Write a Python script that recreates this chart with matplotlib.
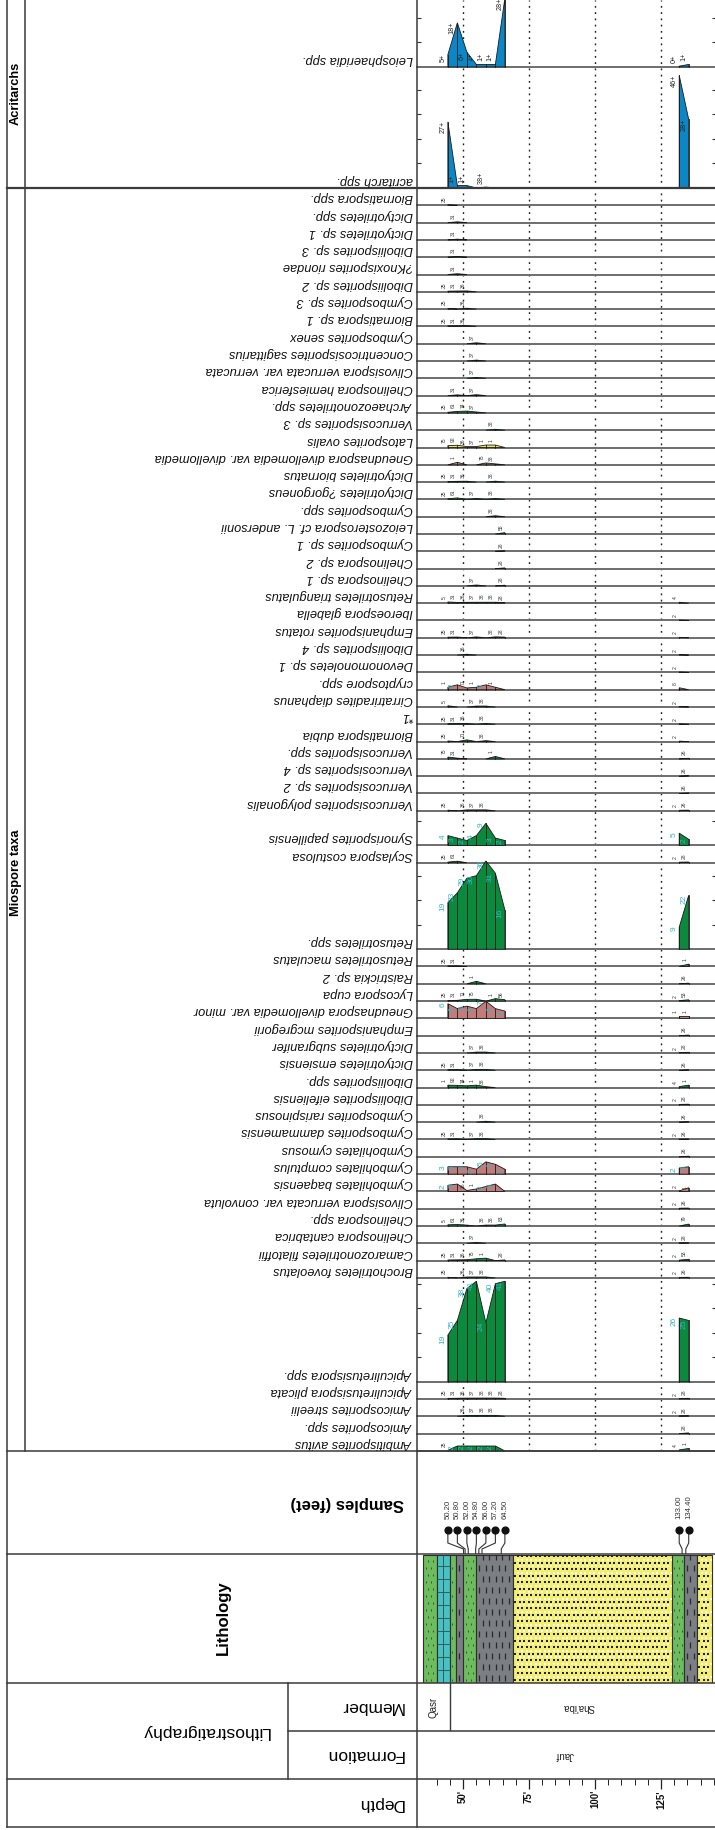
import numpy as np
import matplotlib
matplotlib.use("Agg")
import matplotlib.pyplot as plt

plt.rcParams['font.family'] = ['Liberation Sans', 'DejaVu Sans']

# ---------------- data ----------------
sample_depths = [50.20, 50.80, 52.00, 54.80, 56.00, 57.20, 64.50, 133.00, 134.40]
sample_clusters = [(0, 7), (7, 9)]

acritarch_taxa = ["Leiosphaeridia spp.", "acritarch spp."]
acritarch_values = [
    [5, 18, 6, 1, 1, 1, 28, 0.3, 1],
    [27, 1, 1, 0, 0.38, 0, 0, 46, 28],
]
acritarch_labels = [
    ["5", "18", "6", "1", "1", "1", "28", "0", "1"],
    ["27", "1", "1", "", "38", "", "", "46", "28"],
]
acritarch_units = [7, 7]

miospore_taxa = [
    "Biornatispora spp.", "Dictyotriletes spp.", "Dictyotriletes sp. 1", "Diboliisporites sp. 3",
    "?Knoxisporites riondae", "Diboliisporites sp. 2", "Cymbosporites sp. 3", "Biornatispora sp. 1",
    "Cymbosporites senex", "Concentricosisporites sagittarius", "Clivosispora verrucata var. verrucata",
    "Chelinospora hemiesferica", "Archaeozonotriletes spp.", "Verrucosisporites sp. 3",
    "Latosporites ovalis", "Gneudnaspora divellomedia var. divellomedia", "Dictyotriletes biornatus",
    "Dictyotriletes ?gorgoneus", "Cymbosporites spp.", "Leiozosterospora cf. L. andersonii",
    "Cymbosporites sp. 1", "Chelinospora sp. 2", "Chelinospora sp. 1", "Retusotriletes triangulatus",
    "Iberoespora glabella", "Emphanisporites rotatus", "Diboliisporites sp. 4", "Devonomonoletes sp. 1",
    "cryptospore spp.", "Cirratriradites diaphanus", "*1", "Biornatispora dubia",
    "Verrucosisporites spp.", "Verrucosisporites sp. 4", "Verrucosisporites sp. 2",
    "Verrucosisporites polygonalis", "Synorisporites papillensis", "Scylaspora costulosa",
    "Retusotriletes spp.", "Retusotriletes maculatus", "Raistrickia sp. 2", "Lycospora cupa",
    "Gneudnaspora divellomedia var. minor", "Emphanisporites mcgregorii", "Dictyotriletes subgranifer",
    "Dictyotriletes emsiensis", "Diboliisporites spp.", "Diboliisporites eifeliensis",
    "Cymbosporites rarispinosus", "Cymbosporites dammamensis", "Cymbohilates cymosus",
    "Cymbohilates comptulus", "Cymbohilates baqaensis", "Clivosispora verrucata var. convoluta",
    "Chelinospora spp.", "Chelinospora cantabrica", "Camarozonotriletes filatoffii",
    "Brochotriletes foveolatus", "Apiculiretusispora spp.", "Apiculiretusispora plicata",
    "Amicosporites streelii", "Amicosporites spp.", "Ambitisporites avitus",
]
miospore_values = [
    [.25, 0, 0, 0, 0, 0, 0, 0, 0],
    [0, .31, 0, 0, 0, 0, 0, 0, 0],
    [0, .31, 0, 0, 0, 0, 0, 0, 0],
    [0, .31, 0, 0, 0, 0, 0, 0, 0],
    [0, .31, 0, 0, 0, 0, 0, 0, 0],
    [.25, .31, .36, 0, 0, 0, 0, 0, 0],
    [.25, 0, .36, 0, 0, 0, 0, 0, 0],
    [.25, .31, .36, 0, 0, 0, 0, 0, 0],
    [0, 0, 0, .37, 0, 0, 0, 0, 0],
    [0, 0, 0, .37, 0, 0, 0, 0, 0],
    [0, 0, 0, .37, 0, 0, 0, 0, 0],
    [0, .31, 0, .37, 0, 0, 0, 0, 0],
    [.25, .61, .74, .37, 0, 0, 0, 0, 0],
    [0, 0, 0, 0, 0, .38, 0, 0, 0],
    [.75, .92, .36, .37, 1, 1, 0, 0, 0],
    [0, 1, 0, 0, .75, .38, 0, 0, 0],
    [.25, .31, .36, 0, 0, .38, 0, 0, 0],
    [.25, .61, 0, .37, 0, .38, 0, 0, 0],
    [0, 0, 0, 0, 0, .38, 0, 0, 0],
    [0, 0, 0, 0, 0, 0, .55, 0, 0],
    [0, 0, 0, 0, 0, 0, .28, 0, 0],
    [0, 0, 0, 0, 0, 0, .28, 0, 0],
    [0, 0, 0, .37, 0, 0, .28, 0, 0],
    [.5, .31, .36, .37, .38, .38, .28, .4, 0],
    [0, 0, 0, 0, 0, 0, 0, .2, 0],
    [.25, .31, 0, .37, 0, .38, .28, .2, 0],
    [0, 0, .36, 0, 0, 0, 0, .2, 0],
    [0, 0, 0, 0, 0, 0, 0, .2, 0],
    [1, 2, .71, 1, 2, 1, 0, .8, 0],
    [.5, 0, 0, .37, .38, 0, 0, .2, 0],
    [.25, .31, .36, 0, .38, 0, 0, .2, 0],
    [.25, 0, .71, 0, .38, 0, 0, .2, 0],
    [.75, .31, 0, 0, 0, 1, 0, 0, .26],
    [0, 0, 0, 0, 0, 0, 0, 0, .26],
    [0, 0, 0, 0, 0, 0, 0, 0, .26],
    [.25, 0, .36, .37, .38, 0, 0, .2, .26],
    [4, 3, 2, 4, 9, 3, 2, 5, 2.5],
    [.25, .61, 0, 0, 0, 0, 0, .2, .28],
    [19, 23, 29, 30, 36, 31, 16, 9, 22],
    [.25, .31, 0, 0, 0, 0, 0, 0, 1],
    [0, 0, 0, 1, 0, 0, 0, 0, .26],
    [.25, .31, .71, .75, 0, 1, .56, .2, .53],
    [6, 4, 5, 4, 7, 4, 3, 1, 1],
    [0, 0, 0, 0, 0, 0, 0, 0, .26],
    [0, 0, 0, .37, .38, 0, 0, .2, .28],
    [.25, .31, 0, .37, .38, 0, 0, 0, .26],
    [1, .92, .74, 1, .38, 0, 0, .4, 1],
    [0, 0, 0, 0, 0, 0, 0, .2, .28],
    [0, 0, 0, 0, .38, 0, 0, 0, .26],
    [.25, .31, 0, .37, .38, 0, 0, .2, .26],
    [0, 0, 0, 0, 0, 0, 0, 0, .26],
    [3, 3, 3, 2, 5, 4, 2, 2.5, 3],
    [2.5, 3, .36, 1, 2, 3, 0, .2, 1.5],
    [0, 0, 0, 0, 0, 0, 0, .2, .26],
    [.5, .61, .36, 0, .38, .38, .83, 0, .79],
    [0, 0, 0, .37, 0, 0, 0, .2, .28],
    [.25, .31, .36, .75, 1, 0, .28, .2, .53],
    [.25, 0, .36, .37, .38, 0, 0, .2, .26],
    [19, 25, 38, 41, 24, 40, 41, 26, 25],
    [.25, .31, .36, .37, .38, .38, .28, .2, .28],
    [0, 0, .36, .37, .38, .38, 0, .2, .28],
    [0, 0, 0, 0, 0, 0, 0, 0, .28],
    [.25, 2, 2, 2, 2, 2, 0, .4, 1],
]
miospore_units = [1] * 36 + [2, 1, 5] + [1] * 19 + [6, 1, 1, 1, 1]
miospore_group = (["g"] * 14 + ["y", "p"] + ["g"] * 12 + ["p"] + ["g"] * 13 + ["p"]
                  + ["g"] * 8 + ["p", "p"] + ["g"] * 10)

litho_top = [35.0, 40.0, 45.0, 47.4, 50.1, 55.0, 69.0, 129.0, 133.7, 138.7]
litho_base = [40.0, 45.0, 47.4, 50.1, 55.0, 69.0, 129.0, 133.7, 138.7, 144.2]
litho_type = ["silt", "lime", "silt", "shale", "silt", "shale", "sand", "silt", "shale", "sand"]

members = ["Qasr", "Sha'iba"]
member_top = [32.6, 45.08]
member_base = [45.08, 142.8]
formations = ["Jauf"]
formation_top = [32.6]
formation_base = [144.6]

# ---------------- layout ----------------
W, H = 715, 1830
PX0, PX1 = 417, 716
PX_PER_FT = 2.64
D0 = 32.58
D1 = D0 + (PX1 - PX0) / PX_PER_FT
UNIT = 17.3
PX_PER_PCT = 2.45
MIO_TOP = 188.0
MIO_BOT = MIO_TOP + sum(miospore_units) * UNIT

COLORS = {"g": "#0b8a3e", "p": "#c27d7a", "y": "#f0e65a", "b": "#0b86c6"}
CYAN = "#33b7c8"
LINE = "#3a3a3a"

fig = plt.figure(figsize=(W / 100, H / 100), dpi=100)


def axes_px(x0, y0, x1, y1, z=1):
    a = fig.add_axes([x0 / W, 1 - y1 / H, (x1 - x0) / W, (y1 - y0) / H], zorder=z)
    a.patch.set_alpha(0)
    for s in a.spines.values():
        s.set_visible(False)
    return a


# display positions of samples (evenly spaced within each cluster)
SPACING = 3.6
disp = [0.0] * len(sample_depths)
for a, b in sample_clusters:
    m = np.mean(sample_depths[a:b])
    n = b - a
    for k in range(n):
        disp[a + k] = m + (k - (n - 1) / 2) * SPACING

major_ticks = np.arange(50, D1, 25)
minor_ticks = [d for d in np.arange(40, D1, 5) if d % 25 != 0]

# background grid for taxa region
bg = axes_px(PX0, 0, PX1, MIO_BOT, z=0)
bg.set_xlim(D0, D1)
bg.set_ylim(0, 1)
bg.set_xticks([]); bg.set_yticks([])
for d in major_ticks:
    bg.axvline(d, color="#1e1e1e", lw=1.0, ls=(0, (1.3, 3.2)))


def label_text(v):
    if v <= 0:
        return ""
    if v < 1:
        return f"{v:.2f}"[2:].rstrip("0")
    return str(int(v))


def put_label(ax, x, v, text, color, fs):
    L = len(text) * 0.58 * fs * 100 / 72
    vpx = v * PX_PER_PCT
    if vpx >= 0.9 * L:
        ax.annotate(text, (x, v), xytext=(-1.5, 1), textcoords="offset pixels", rotation=90,
                    ha="right", va="top", fontsize=fs, color=color, annotation_clip=False)
    else:
        ax.annotate(text, (x, v), xytext=(-1.5, 3), textcoords="offset pixels", rotation=90,
                    ha="right", va="bottom", fontsize=fs, color=color, annotation_clip=False)


def draw_row(top, units, name, vals, color, labels=None, acrit=False):
    h = units * UNIT
    bottom = top + h
    ax = axes_px(PX0, top, PX1, bottom, z=2)
    ax.set_xlim(D0, D1)
    ymax = h / PX_PER_PCT
    ax.set_ylim(0, ymax)
    ax.set_xticks([])
    ax.set_yticks(np.arange(10, ymax - 1, 10))
    ax.tick_params(axis="y", direction="in", length=3, width=0.8, left=True, right=True,
                   labelleft=False, labelright=False, color="#333")
    ax.axhline(0, color="#6e6e6e", lw=1.4, zorder=1, clip_on=False)
    for a, b in sample_clusters:
        v = vals[a:b]
        x = disp[a:b]
        n = b - a
        i = 0
        while i < n:
            if v[i] > 0:
                j = i
                while j + 1 < n and v[j + 1] > 0:
                    j += 1
                px = [x[i - 1] if i > 0 else x[i]]
                py = [0]
                for k in range(i, j + 1):
                    px.append(x[k]); py.append(v[k])
                px.append(x[j + 1] if j < n - 1 else x[j]); py.append(0)
                ax.fill(px, py, facecolor=color, edgecolor="#1a1a1a", lw=0.6, zorder=2, clip_on=False)
                for k in range(i, j + 1):
                    ax.plot([x[k], x[k]], [0, v[k]], color="#1a1a1a", lw=0.6, zorder=3, clip_on=False)
                i = j + 1
            else:
                i += 1
    for k, vv in enumerate(vals):
        if acrit:
            t = labels[k]
            if t == "":
                continue
            put_label(ax, disp[k], vv, t + "+", "#222", 5.2)
        else:
            t = label_text(vv)
            if not t:
                continue
            if vv >= 2:
                put_label(ax, disp[k], vv, t, CYAN, 6)
            else:
                put_label(ax, disp[k], vv, t, "#333", 3.6)
    off = min(h / 2, 8.0)
    ov.text(413, bottom - off, name, rotation=180, ha="right", va="center", fontsize=9.2,
            style="italic", color="#111")
    return bottom


# overlay for frame & header text
ov = fig.add_axes([0, 0, 1, 1], zorder=5)
ov.set_xlim(0, W)
ov.set_ylim(H, 0)
ov.axis("off")
ov.patch.set_alpha(0)

# acritarch rows
top = MIO_TOP - sum(acritarch_units) * UNIT
for name, vals, labs, u in zip(acritarch_taxa, acritarch_values, acritarch_labels, acritarch_units):
    top = draw_row(top, u, name, vals, COLORS["b"], labels=labs, acrit=True)

# miospore rows
top = MIO_TOP
for name, vals, u, g in zip(miospore_taxa, miospore_values, miospore_units, miospore_group):
    top = draw_row(top, u, name, vals, COLORS[g])

# ---------------- samples column ----------------
S_TOP, S_BOT = MIO_BOT, 1554
sax = axes_px(PX0, S_TOP, PX1, S_BOT, z=3)
sax.set_xlim(D0, D1)
sax.set_ylim(S_BOT, S_TOP)
sax.set_xticks([]); sax.set_yticks([])
for xd, xa in zip(disp, sample_depths):
    sax.plot([xd, xd, xa, xa], [1532, 1543, 1549, S_BOT], color="#333", lw=0.8)
    sax.text(xd, 1519, f"{xa:.2f}", rotation=90, ha="center", va="bottom", fontsize=5.6, color="#333")
sax.scatter(disp, [1530] * len(disp), s=24, color="#111", zorder=4)

# ---------------- lithology ----------------
L_TOP, L_BOT = 1555, 1683
lax = axes_px(PX0, L_TOP, PX1, L_BOT, z=3)
lax.set_xlim(D0, D1)
lax.set_ylim(0, 1)
lax.set_xticks([]); lax.set_yticks([])
LH = L_BOT - L_TOP
litho_style = {
    "silt": dict(fc="#6dbc5d"),
    "lime": dict(fc="#49c0c2"),
    "shale": dict(fc="#7b7f84"),
    "sand": dict(fc="#f3ee6b"),
}
for t0, t1, typ in zip(litho_top, litho_base, litho_type):
    lax.bar(t0, 1, width=t1 - t0, bottom=0, align="edge", color=litho_style[typ]["fc"],
            edgecolor="#2e2e2e", lw=0.8, zorder=1)
    wft = t1 - t0
    if typ == "shale":
        dx, dy = 6.5 / PX_PER_FT, 11 / LH
        ys = np.arange(dy / 2, 1, dy)
        for r, yy in enumerate(ys):
            xs = np.arange(t0 + dx * (0.5 + 0.5 * (r % 2)), t1 - dx * 0.3, dx)
            lax.scatter(xs, [yy] * len(xs), marker="|", s=22, linewidths=0.9, color="#2a2a2a", zorder=2)
    elif typ == "silt":
        dx, dy = 5.0 / PX_PER_FT, 7 / LH
        ys = np.arange(dy / 2, 1, dy)
        for r, yy in enumerate(ys):
            xs = np.arange(t0 + dx * (0.5 + 0.5 * (r % 2)), t1 - dx * 0.3, dx)
            lax.scatter(xs, [yy] * len(xs), marker="|", s=3, linewidths=0.7, color="#2f5a2f", zorder=2)
    elif typ == "sand":
        dx, dy = 4.5 / PX_PER_FT, 6.5 / LH
        ys = np.arange(dy / 2, 1, dy)
        for r, yy in enumerate(ys):
            xs = np.arange(t0 + dx * (0.5 + 0.5 * (r % 2)), t1 - dx * 0.3, dx)
            lax.scatter(xs, [yy] * len(xs), marker="s", s=0.7, linewidths=0, color="#222", zorder=2)
            lax.scatter(xs + dx / 2, [yy + dy / 2] * len(xs), marker="s", s=0.7, linewidths=0,
                        color="white", zorder=2)
    elif typ == "lime":
        ys = np.arange(13 / LH, 1, 13 / LH)
        lax.hlines(ys, t0, t1, color="#2d5f60", lw=0.7, zorder=2)
        lax.vlines((t0 + t1) / 2, 0, 1, color="#2d5f60", lw=0.7, zorder=2)

# ---------------- member / formation ----------------
mem = axes_px(PX0, 1683, PX1, 1731, z=3)
mem.set_xlim(D0, D1); mem.set_ylim(0, 1)
mem.set_xticks([]); mem.set_yticks([])
for nm, t0, t1 in zip(members, member_top, member_base):
    c = (t0 + t1) / 2
    if t0 > D0 + 0.5:
        mem.axvline(t0, color=LINE, lw=1.0)
    if t1 - t0 < 20:
        mem.text(c, 0.5, nm, rotation=90, ha="center", va="center", fontsize=7, color="#222")
    else:
        mem.text(c, 0.5, nm, rotation=180, ha="center", va="center", fontsize=7, color="#222")
frm = axes_px(PX0, 1731, PX1, 1779, z=3)
frm.set_xlim(D0, D1); frm.set_ylim(0, 1)
frm.set_xticks([]); frm.set_yticks([])
for nm, t0, t1 in zip(formations, formation_top, formation_base):
    frm.text((t0 + t1) / 2, 0.5, nm, rotation=180, ha="center", va="center", fontsize=7, color="#222")

# ---------------- depth axis ----------------
dax = axes_px(PX0, 1779, PX1, 1827, z=3)
dax.set_xlim(D0, D1); dax.set_ylim(0, 1)
dax.set_yticks([])
dax.xaxis.set_ticks_position("top")
dax.set_xticks(major_ticks)
dax.set_xticks(minor_ticks, minor=True)
dax.tick_params(axis="x", which="major", direction="in", length=7, width=0.9, labeltop=False, color="#222")
dax.tick_params(axis="x", which="minor", direction="in", length=4.5, width=0.7, color="#222")
for d in major_ticks:
    dax.text(d, 1 - 11 / 48, f"{int(d)}'", rotation=90, ha="center", va="top", fontsize=7,
             weight="bold", transform=dax.get_xaxis_transform(), color="#111")

# ---------------- frame lines ----------------
lk = dict(color=LINE, lw=1.1)
ov.plot([7, 7], [0, 1827], **lk)
ov.plot([25, 25], [0, MIO_BOT], **lk)
ov.plot([PX0, PX0], [0, 1827], **lk)
ov.plot([7, 716], [MIO_TOP, MIO_TOP], color=LINE, lw=1.6)
for yy in [MIO_BOT, S_BOT, 1683, 1779, 1827]:
    ov.plot([7, 716], [yy, yy], **lk)
ov.plot([288, 716], [1731, 1731], **lk)
ov.plot([288, 288], [1683, 1779], **lk)

# header texts
ov.text(16, 93, "Acritarchs", rotation=90, ha="center", va="center", fontsize=9.3, weight="bold")
ov.text(16, 873, "Miospore taxa", rotation=90, ha="center", va="center", fontsize=9.3, weight="bold")
ov.text(404, 1503, "Samples (feet)", rotation=180, ha="right", va="center", fontsize=12, weight="bold")
ov.text(223, 1618, "Lithology", rotation=90, ha="center", va="center", fontsize=12, weight="bold")
ov.text(205, 1731, "Lithostratigraphy", rotation=180, ha="center", va="center", fontsize=12.5)
ov.text(404, 1707, "Member", rotation=180, ha="right", va="center", fontsize=12.5)
ov.text(404, 1755, "Formation", rotation=180, ha="right", va="center", fontsize=12.5)
ov.text(404, 1803, "Depth", rotation=180, ha="right", va="center", fontsize=12.5)

fig.savefig("out.png", dpi=100)
